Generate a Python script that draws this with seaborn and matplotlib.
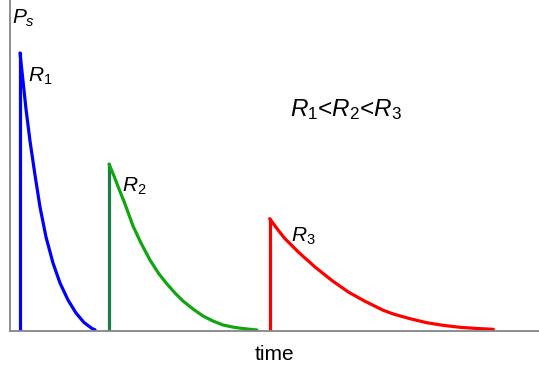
import matplotlib
matplotlib.use("Agg")
import matplotlib.pyplot as plt
import seaborn as sns

# Data (time units, Ps units)
pulse_start = [10.0, 99.0, 259.7]
pulse_peak = [278.0, 167.0, 112.3]

r1_time = [10.0, 13.0, 16.0, 20.0, 25.0, 30.0, 36.0, 43.0, 50.0, 58.0, 66.0, 74.0, 82.0, 85.0]
r1_ps = [278.0, 250.0, 222.0, 190.0, 156.0, 124.0, 94.0, 68.0, 48.0, 31.0, 18.0, 8.5, 2.5, 1.2]

r2_time = [99.0, 104.0, 109.0, 115.0, 123.0, 131.0, 140.0, 149.0, 157.0, 165.0, 173.0,
           183.0, 193.0, 203.0, 213.0, 225.0, 237.0, 247.0]
r2_ps = [167.0, 155.0, 142.0, 127.0, 105.0, 88.0, 71.0, 57.0, 47.0, 38.0, 30.0,
         22.0, 15.0, 10.0, 6.0, 3.5, 2.0, 1.0]

r3_time = [259.7, 265.0, 270.0, 275.0, 288.3, 305.0, 321.7, 338.3, 355.0, 373.3, 383.3,
           400.0, 416.7, 433.0, 450.0, 467.0, 483.3]
r3_ps = [112.3, 105.0, 98.5, 92.3, 79.0, 64.0, 50.7, 39.0, 29.7, 20.7, 17.0,
         12.3, 8.3, 5.7, 3.7, 2.5, 1.7]

curve_labels = ["$R_1$", "$R_2$", "$R_3$"]
title_text = "$R_1$<$R_2$<$R_3$"

sns.set_style("white")
plt.rcParams["font.family"] = ["Liberation Sans", "DejaVu Sans"]
plt.rcParams["mathtext.fontset"] = "custom"
plt.rcParams["mathtext.rm"] = "Liberation Sans"
plt.rcParams["mathtext.it"] = "Liberation Sans:italic"

fig = plt.figure(figsize=(5.39, 3.70), dpi=100)
ax = fig.add_axes([10 / 539, 1 - 331 / 370, 529 / 539, 331 / 370])

lw = 2.3
curve_colors = ["#0000ff", "#11a611", "#ff0000"]
vert_colors = ["#0000ff", "#1a7f45", "#ff0000"]

for t, p, c in zip(pulse_start, pulse_peak, vert_colors):
    sns.lineplot(x=[t, t], y=[0, p], color=c, lw=lw, estimator=None, sort=False, ax=ax)

for xs, ys, c in zip([r1_time, r2_time, r3_time], [r1_ps, r2_ps, r3_ps], curve_colors):
    sns.lineplot(x=xs, y=ys, color=c, lw=lw, estimator=None, sort=False, ax=ax,
                 solid_joinstyle="round", solid_capstyle="round")

ax.set_xlim(0, 529)
ax.set_ylim(0, 331)
ax.set_xticks([])
ax.set_yticks([])
for side in ["top", "right"]:
    ax.spines[side].set_visible(False)
for side in ["left", "bottom"]:
    ax.spines[side].set_color("#858585")
    ax.spines[side].set_linewidth(1.3)

# labels
label_pos = [(18.0, 249.0), (112.3, 139.3), (281.0, 89.7)]
for (x, y), s in zip(label_pos, curve_labels):
    ax.text(x, y, s, fontsize=15, ha="left", va="baseline", color="black")

ax.text(280.0, 215.3, title_text, fontsize=17.5, ha="left", va="baseline", color="black")
ax.text(2.0, 307.0, "$P_s$", fontsize=15, ha="left", va="baseline", color="black")

ax.set_xlabel("time", fontsize=15, labelpad=10, color="black")
ax.set_ylabel("")

fig.savefig("out.png", dpi=100)
